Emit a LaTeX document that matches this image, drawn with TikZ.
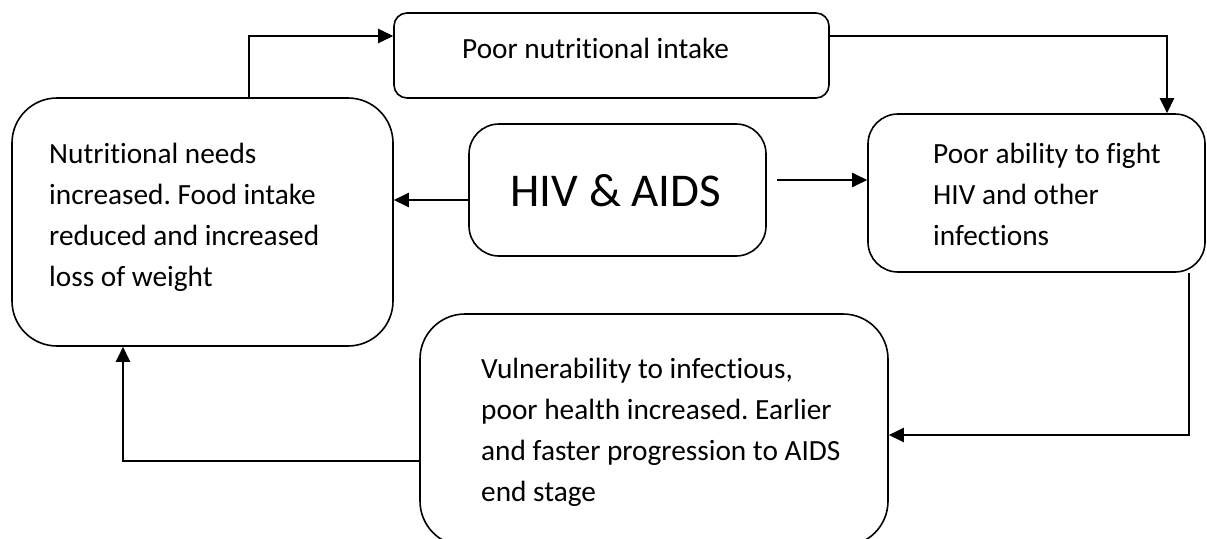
\documentclass[tikz,border=0pt]{standalone}
\usepackage{fontspec}
\setmainfont{Carlito}[Ligatures={NoCommon}]
\usetikzlibrary{arrows.meta}
\frenchspacing
\newcommand{\bodyfont}{\fontsize{29.3}{41}\selectfont}
\newcommand{\bigfont}{\fontsize{47}{56}\selectfont}
\tikzset{
  box/.style={draw, line width=1.6pt, inner sep=0pt, rounded corners=#1},
  txt/.style={inner sep=0pt, font=\bodyfont, align=left},
  conn/.style={line width=2.4pt, -{Triangle[length=15pt,width=14pt]}},
}
\begin{document}
\begin{tikzpicture}[x=1pt,y=1pt]
\useasboundingbox (0,0) rectangle (1207,-538);

% boxes
\node[box=13pt, minimum width=435pt, minimum height=85pt] (topbox) at (611.5,-55.5) {};
\node[box=45pt, minimum width=381pt, minimum height=248pt] (leftbox) at (202.5,-222) {};
\node[box=30pt, minimum width=297pt, minimum height=132pt] (hiv) at (617.5,-190) {};
\node[box=30pt, minimum width=337pt, minimum height=158pt] (rightbox) at (1036.5,-193) {};
\node[box=45pt, minimum width=468pt, minimum height=232pt] (bottombox) at (654,-430) {};

% texts
\node[txt, anchor=base west] (ttop) at (462,-58) {Poor nutritional intake};
\node[inner sep=0pt, font=\bigfont, anchor=base] (thiv) at (616,-206) {HIV \& AIDS};
\node[txt, anchor=north west] (tleft) at (49,-134.3) {\strut Nutritional needs\\increased. Food intake\\reduced and increased\\loss of weight};
\node[txt, anchor=north west] (tright) at (933,-134.3) {\strut Poor ability to fight\\HIV and other\\infections};
\node[txt, anchor=north west] (tbottom) at (481,-349.3) {\strut Vulnerability to infectious,\\poor health increased. Earlier\\and faster progression to AIDS\\end stage};

% connector helper coordinates
\coordinate (c1) at (103,-98);
\coordinate (ca) at (249,-36);
\coordinate (cb) at (1167,-36);
\coordinate (cc) at (430,-200);
\coordinate (cd) at (777,-180);
\coordinate (ce) at (1189,-435);
\coordinate (cf) at (123,-461);

% connectors
\draw[conn] (c1) -| (ca) -- (ca -| topbox.west);
\draw[conn] (cb -| topbox.east) -- (cb) -- (cb |- rightbox.north);
\draw[conn] (cc -| hiv.west) -- (cc -| leftbox.east);
\draw[conn] (cd) -- (cd -| rightbox.west);
\draw[conn] (ce |- rightbox.south) -- (ce) -- (ce -| bottombox.east);
\draw[conn] (cf -| bottombox.west) -- (cf) -- (cf |- leftbox.south);
\end{tikzpicture}
\end{document}
